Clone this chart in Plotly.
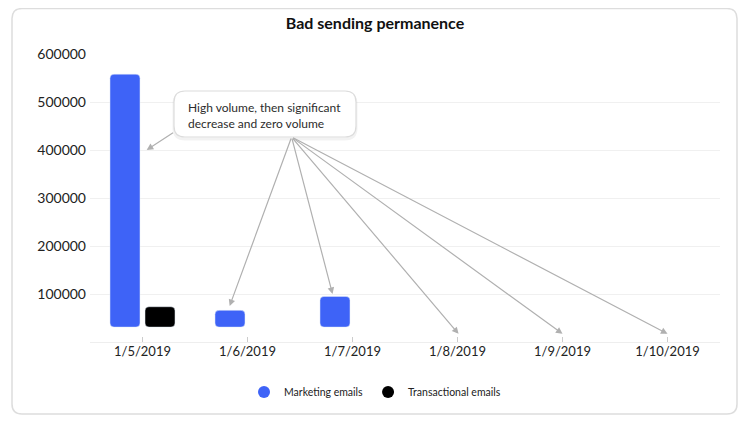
import plotly.graph_objects as go

# data
dates = ["1/5/2019", "1/6/2019", "1/7/2019", "1/8/2019", "1/9/2019", "1/10/2019"]
marketing = [558000, 66000, 95000, 0, 0, 0]
transactional = [73500, 0, 0, 0, 0, 0]
y_ticks = [100000, 200000, 300000, 400000, 500000, 600000]
y_tick_labels = ["100000", "200000", "300000", "400000", "500000", "600000"]

note_text = "High volume, then significant<br>decrease and zero volume"
# arrow heads (category index, value) and tails
arrow_heads = [(0.04, 400000), (0.83, 75000), (1.81, 100000),
               (3.01, 17000), (4.0, 17000), (5.0, 17000)]
arrow_tails = [(0.305, 438000), (1.42, 427000), (1.42, 427000),
               (1.42, 427000), (1.42, 427000), (1.42, 427000)]

BLUE = "#3e63f7"
BLACK = "#000000"
BAR_BASE = 31000  # bars float a little above the axis

# page has an 8px body margin, so the figure is drawn 8px in from the window
OFF = 8
W, H = 750 - OFF, 422 - OFF
# plot area in window pixels: x 90..720, y 54..342
PX0, PX1, PY0, PY1 = 90, 720, 54, 342
L, R, T, B = PX0 - OFF, W - (PX1 - OFF), PY0 - OFF, H - (PY1 - OFF)
PW, PH = PX1 - PX0, PY1 - PY0


def px_x(x):
    return (x - PX0) / PW


def px_y(y):
    return (PY1 - y) / PH


def rounded(x0, y0, x1, y1, r):
    # rounded rect in window pixels -> paper path
    rx, ry = r / PW, r / PH
    a, b, c, d = px_x(x0), px_y(y1), px_x(x1), px_y(y0)
    return (f"M{a+rx},{b} L{c-rx},{b} Q{c},{b} {c},{b+ry} L{c},{d-ry} "
            f"Q{c},{d} {c-rx},{d} L{a+rx},{d} Q{a},{d} {a},{d-ry} "
            f"L{a},{b+ry} Q{a},{b} {a+rx},{b} Z")


def heights(vals):
    return [v - BAR_BASE if v else None for v in vals]


fig = go.Figure()
fig.add_trace(go.Bar(x=dates, y=heights(marketing), base=BAR_BASE, name="Marketing emails",
                     marker=dict(color=BLUE, cornerradius=4), showlegend=False))
fig.add_trace(go.Bar(x=dates, y=heights(transactional), base=BAR_BASE, name="Transactional emails",
                     marker=dict(color=BLACK, cornerradius=4), showlegend=False))
# circle legend entries
for name, col in [("Marketing emails", BLUE), ("Transactional emails", BLACK)]:
    fig.add_trace(go.Scatter(x=[None], y=[None], mode="markers", name=name,
                             marker=dict(symbol="circle", size=12, color=col)))

shapes = [
    dict(type="path", xref="paper", yref="paper", path=rounded(12, 8.6, 737, 414, 10),
         line=dict(color="#dddddd", width=1.5), fillcolor="rgba(0,0,0,0)", layer="below"),
    dict(type="path", xref="paper", yref="paper", path=rounded(174, 93, 356, 139, 11),
         line=dict(color="rgba(0,0,0,0.05)", width=3), fillcolor="rgba(0,0,0,0)"),
    dict(type="path", xref="paper", yref="paper", path=rounded(174, 91, 356, 137, 11),
         line=dict(color="#dcdcdc", width=1.2), fillcolor="white"),
]

annotations = []
for (hx, hy), (tx, ty) in zip(arrow_heads, arrow_tails):
    annotations.append(dict(x=hx, y=hy, ax=tx, ay=ty, xref="x", yref="y", axref="x", ayref="y",
                            text="", showarrow=True, arrowhead=2, arrowsize=1.1,
                            arrowwidth=1.2, arrowcolor="#b0b0b0", standoff=0))
annotations.append(dict(x=px_x(186), y=px_y(115), xref="paper", yref="paper",
                        text=note_text, showarrow=False, xanchor="left", yanchor="middle",
                        align="left", font=dict(size=12, color="#2c2c2c")))

fig.update_layout(
    width=W, height=H,
    margin=dict(l=L, r=R, t=T, b=B),
    paper_bgcolor="white", plot_bgcolor="white",
    font=dict(family="Lato", color="#222222"),
    title=dict(text="<b>Bad sending permanence</b>", x=(375 - OFF) / W,
               xanchor="center", y=1 - (23 - OFF) / H, yanchor="middle",
               font=dict(size=16, color="#111111")),
    barmode="group", bargap=0.333, bargroupgap=0.143,
    legend=dict(orientation="h", x=px_x(375), xanchor="center", y=px_y(392), yanchor="middle",
                font=dict(size=10.5, color="#222222")),
    shapes=shapes,
    annotations=annotations,
)
fig.update_xaxes(type="category", ticks="inside", ticklen=5, tickcolor="#cccccc",
                 tickfont=dict(size=13), showgrid=False, showline=False)
fig.update_yaxes(range=[0, 600000], tickvals=y_ticks, ticktext=y_tick_labels,
                 tickfont=dict(size=14), showgrid=True, gridcolor="#f0f0f0",
                 zeroline=True, zerolinecolor="#eeeeee", zerolinewidth=1, ticks="",
                 ticklabelstandoff=3)

fig.write_html("out.html")
